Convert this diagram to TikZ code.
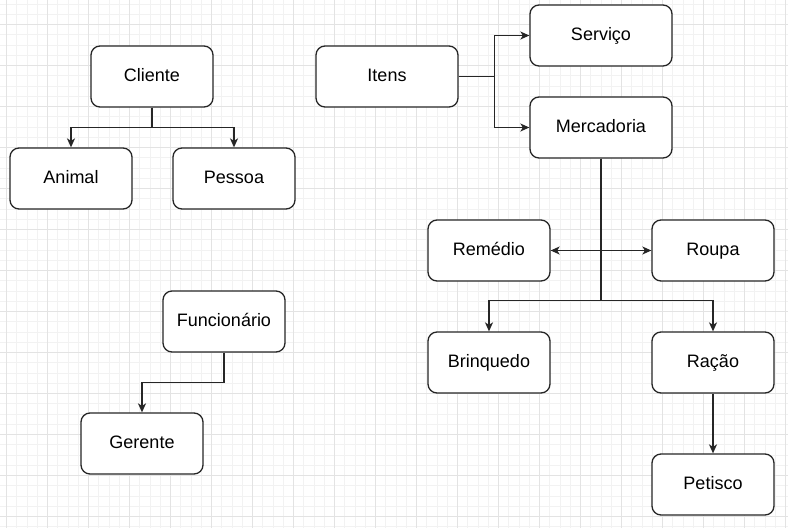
\documentclass[tikz,border=0pt]{standalone}
\usepackage{fontspec}
\setmainfont{Liberation Sans}
\usetikzlibrary{arrows.meta}
\begin{document}
\begin{tikzpicture}[x=1pt,y=-1pt,
  minorline/.style={draw=black!5,line width=0.8pt},
  majorline/.style={draw=black!11,line width=0.8pt},
  box/.style={draw=black!85,line width=1.3pt,rounded corners=9pt,fill=white,
    minimum width=122pt,minimum height=61pt,inner sep=0pt,
    text height=13pt,text depth=3.5pt,
    font=\fontsize{18}{21}\selectfont,text=black},
  widebox/.style={box,minimum width=142pt},
  conn/.style={draw=black!85,line width=1.3pt,-{Stealth[length=9pt,width=8pt,inset=2.5pt]}},
  dconn/.style={draw=black!85,line width=1.3pt,{Stealth[length=9pt,width=8pt,inset=2.5pt]}-{Stealth[length=9pt,width=8pt,inset=2.5pt]}}
]
\fill[white] (0,0) rectangle (788,528);
\useasboundingbox (0,0) rectangle (788,528);
% grid
\foreach \i in {0,...,77} {\draw[minorline] ({6.5+10.25*(\i-1)},0) -- ({6.5+10.25*(\i-1)},528);}
\foreach \i in {0,...,52} {\draw[minorline] (0,{4+10.25*\i}) -- (788,{4+10.25*\i});}
\foreach \i in {0,...,19} {\draw[majorline] ({6.5+41*\i},0) -- ({6.5+41*\i},528);}
\foreach \i in {0,...,13} {\draw[majorline] (0,{24.5+41*(\i-1)}) -- (788,{24.5+41*(\i-1)});}
% nodes
\node[box] (cliente) at (152,76.5) {Cliente};
\node[box] (animal) at (71,178.5) {Animal};
\node[box] (pessoa) at (234,178.5) {Pessoa};
\node[widebox] (itens) at (387,76.5) {Itens};
\node[widebox] (servico) at (601,35.5) {Serviço};
\node[widebox] (merc) at (601,127.5) {Mercadoria};
\node[box] (remedio) at (489,250.5) {Remédio};
\node[box] (roupa) at (713,250.5) {Roupa};
\node[box] (brinq) at (489,362.5) {Brinquedo};
\node[box] (racao) at (713,362.5) {Ração};
\node[box] (petisco) at (713,484.5) {Petisco};
\node[box] (func) at (224,321.5) {Funcionário};
\node[box] (gerente) at (142,443.5) {Gerente};
% connectors
\draw[conn] (cliente.south) -- ++(0,20) -| (animal.north);
\draw[conn] (cliente.south) -- ++(0,20) -| (pessoa.north);
\draw[conn] (itens.east) -- ++(36,0) |- (servico.west);
\draw[conn] (itens.east) -- ++(36,0) |- (merc.west);
\draw[conn] (merc.south) -- ++(0,142) -| (brinq.north);
\draw[conn] (merc.south) -- ++(0,142) -| (racao.north);
\draw[dconn] (remedio.east) -- (roupa.west);
\draw[conn] (func.south) -- ++(0,30) -| (gerente.north);
\draw[conn] (racao.south) -- (petisco.north);
\end{tikzpicture}
\end{document}
